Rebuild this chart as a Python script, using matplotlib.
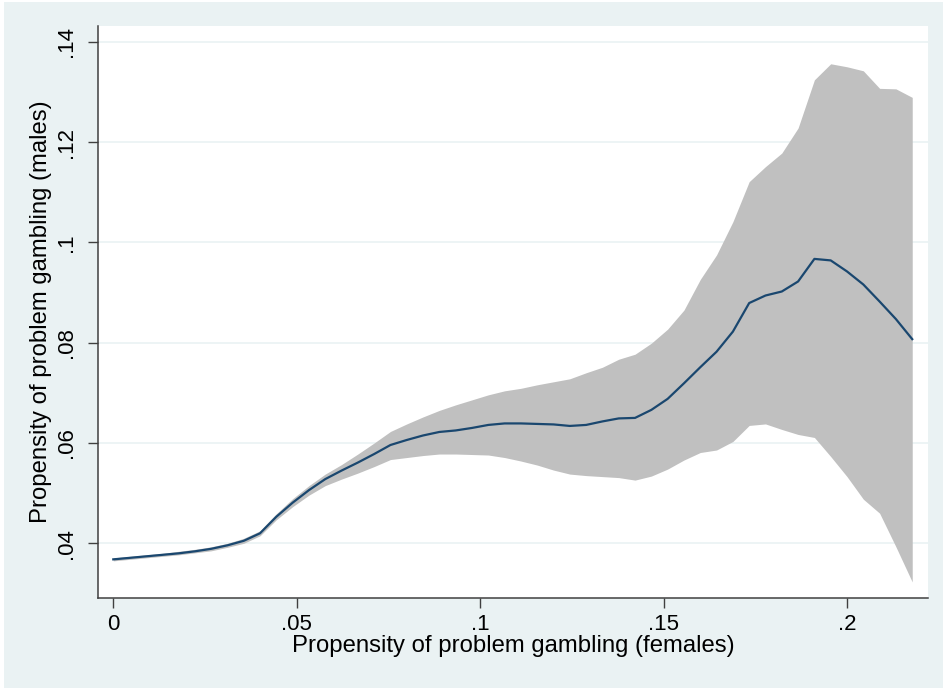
import numpy as np
import matplotlib
matplotlib.use("Agg")
import matplotlib.pyplot as plt
from matplotlib.patches import Rectangle

plt.rcParams['font.family'] = ['Liberation Sans', 'DejaVu Sans']

# evaluation grid of female propensity (50 points)
female = np.linspace(0, 0.2178, 50)

# fitted male propensity
fitted = [0.0368, 0.0371, 0.0374, 0.0377, 0.0380, 0.0384, 0.0389, 0.0396, 0.0405, 0.0420,
          0.0453, 0.0481, 0.0506, 0.0528, 0.0545, 0.0561, 0.0578, 0.0596, 0.0606, 0.0615,
          0.0622, 0.0625, 0.0630, 0.0636, 0.0639, 0.0639, 0.0638, 0.0637, 0.0634, 0.0636,
          0.0643, 0.0649, 0.0650, 0.0666, 0.0688, 0.0719, 0.0751, 0.0782, 0.0822, 0.0879,
          0.0894, 0.0902, 0.0922, 0.0967, 0.0964, 0.0942, 0.0916, 0.0882, 0.0847, 0.0807]

# 95% confidence band
upper = [0.0371, 0.0374, 0.0377, 0.0380, 0.0384, 0.0388, 0.0393, 0.0400, 0.0410, 0.0425,
         0.0459, 0.0489, 0.0515, 0.0538, 0.0557, 0.0578, 0.0600, 0.0623, 0.0638, 0.0652,
         0.0665, 0.0676, 0.0686, 0.0696, 0.0704, 0.0709, 0.0716, 0.0722, 0.0728, 0.0740,
         0.0751, 0.0767, 0.0777, 0.0799, 0.0827, 0.0865, 0.0926, 0.0975, 0.1041, 0.1121,
         0.1151, 0.1178, 0.1228, 0.1324, 0.1356, 0.1350, 0.1342, 0.1307, 0.1306, 0.1289]
lower = [0.0365, 0.0368, 0.0371, 0.0374, 0.0377, 0.0381, 0.0385, 0.0392, 0.0400, 0.0415,
         0.0447, 0.0473, 0.0496, 0.0515, 0.0528, 0.0540, 0.0553, 0.0567, 0.0571, 0.0575,
         0.0578, 0.0578, 0.0577, 0.0576, 0.0571, 0.0564, 0.0556, 0.0546, 0.0538, 0.0535,
         0.0533, 0.0531, 0.0526, 0.0534, 0.0548, 0.0566, 0.0581, 0.0586, 0.0603, 0.0635,
         0.0638, 0.0627, 0.0617, 0.0611, 0.0573, 0.0533, 0.0488, 0.0460, 0.0393, 0.0323]

xticks = [0, 0.05, 0.1, 0.15, 0.2]
xtick_labels = ['0', '.05', '.1', '.15', '.2']
yticks = [0.04, 0.06, 0.08, 0.1, 0.12, 0.14]
ytick_labels = ['.04', '.06', '.08', '.1', '.12', '.14']

bg = '#EAF2F3'
fig = plt.figure(figsize=(9.43, 6.88), dpi=100, facecolor='white')
fig.patches.append(Rectangle((4 / 943, 0), 1, 1 - 2 / 688, transform=fig.transFigure,
                             facecolor=bg, edgecolor='none', zorder=-5))

ax = fig.add_axes([0.1036, 0.1312, 0.8805, 0.8310])
ax.set_facecolor('white')

ax.fill_between(female, lower, upper, color='#C0C0C0', linewidth=0, zorder=2)
ax.plot(female, fitted, color='#1A476F', linewidth=1.6, zorder=3)

ax.set_xlim(-0.00425, 0.2221)
ax.set_ylim(0.02915, 0.14313)

ax.set_xticks(xticks)
ax.set_xticklabels(xtick_labels)
ax.set_yticks(yticks)
ax.set_yticklabels(ytick_labels, rotation=90, va='center')

ax.grid(axis='y', color=bg, linewidth=1.2, zorder=1)
ax.set_axisbelow(True)

for side in ['top', 'right']:
    ax.spines[side].set_visible(False)
for side in ['left', 'bottom']:
    ax.spines[side].set_color('#404040')
    ax.spines[side].set_linewidth(1.1)

ax.tick_params(axis='both', labelsize=16, length=7, width=1, color='#404040')
ax.tick_params(axis='x', pad=5)
ax.tick_params(axis='y', pad=8)

ax.set_xlabel('Propensity of problem gambling (females)', fontsize=17.2, labelpad=0)
ax.set_ylabel('Propensity of problem gambling (males)', fontsize=17.2, labelpad=3)

fig.savefig('out.png', dpi=100, facecolor=fig.get_facecolor())
